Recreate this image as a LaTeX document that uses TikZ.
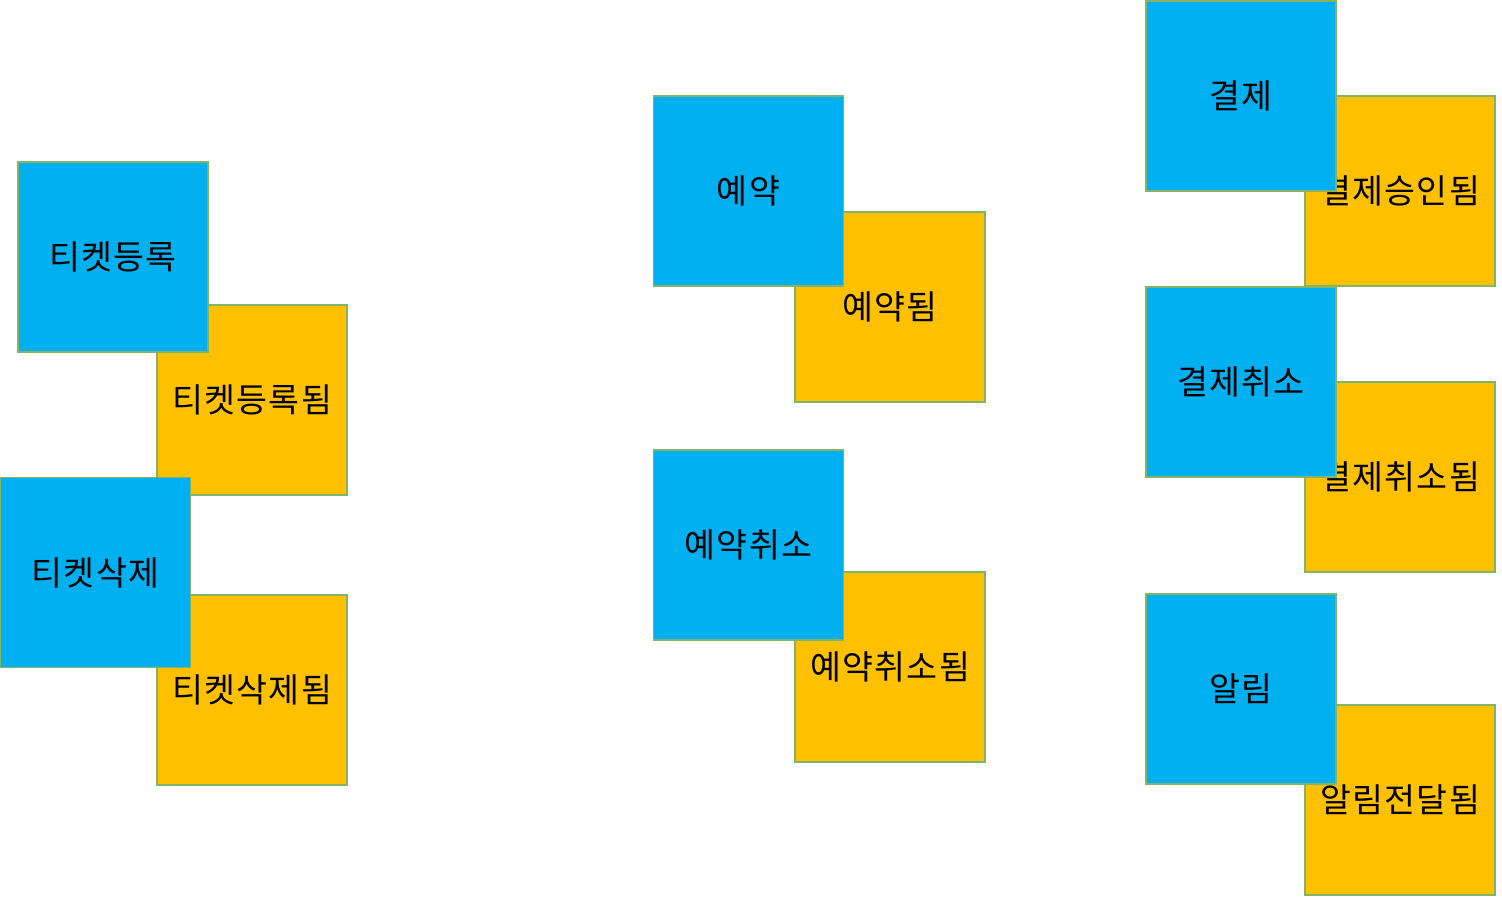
\documentclass[tikz,border=0pt]{standalone}
\usepackage{fontspec}
\setmainfont[LetterSpace=4]{Noto Sans CJK KR}
\usepackage{tikz}

\definecolor{cmdblue}{HTML}{00B0F0}
\definecolor{evtorange}{HTML}{FFC000}
\definecolor{edgegreen}{HTML}{82B366}

\begin{document}
\begin{tikzpicture}[x=0.5pt,y=-0.5pt,
  card/.style={draw=edgegreen,line width=0.75pt,minimum size=95pt,inner sep=0pt,font=\fontsize{16.8}{20}\selectfont},
  command/.style={card,fill=cmdblue},
  event/.style={card,fill=evtorange}]

\useasboundingbox (0,0) rectangle (1502,897);

% Events first, commands lie on top of them.
\node[event] (regdone)    at (252,400) {티켓등록됨};
\node[event] (deldone)    at (252,690) {티켓삭제됨};
\node[event] (bookdone)   at (890,307) {예약됨};
\node[event] (canceldone) at (890,667) {예약취소됨};
\node[event] (paydone)    at (1400,191) {결제승인됨};
\node[event] (payoffdone) at (1400,477) {결제취소됨};
\node[event] (notedone)   at (1400,800) {알림전달됨};

% Commands.
\node[command] (reg)    at (113,257) {티켓등록};
\node[command] (del)    at (95.5,572.5) {티켓삭제};
\node[command] (book)   at (748.5,191) {예약};
\node[command] (cancel) at (748.5,545) {예약취소};
\node[command] (pay)    at (1241,96) {결제};
\node[command] (payoff) at (1241,382) {결제취소};
\node[command] (note)   at (1241,689) {알림};
\end{tikzpicture}
\end{document}
